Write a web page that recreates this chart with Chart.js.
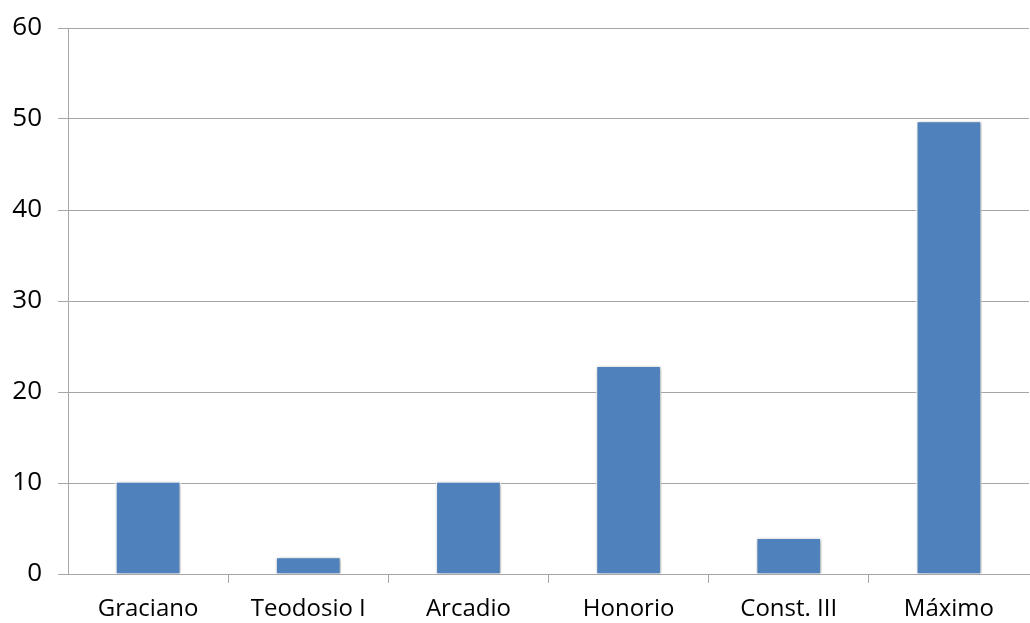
<!DOCTYPE html>
<html>
<head>
<meta charset="utf-8">
<script src="https://cdn.jsdelivr.net/npm/chart.js@4/dist/chart.umd.min.js"></script>
<style>
  html, body { margin: 0; padding: 0; background: #fff; }
  #wrap { width: 1030px; height: 623px; }
</style>
</head>
<body>
<div id="wrap"><canvas id="grafik" width="1030" height="623"></canvas></div>
<script>
const kategori = ['Graciano', 'Teodosio I', 'Arcadio', 'Honorio', 'Const. III', 'Máximo'];
const nilai = [10.2, 1.9, 10.2, 22.9, 4.0, 49.8];
const tickY = [0, 10, 20, 30, 40, 50, 60];

const bayangan = {
    id: 'bayangan',
    beforeDatasetsDraw: function (chart) {
        const ctx = chart.ctx;
        ctx.save();
        ctx.shadowColor = 'rgba(0, 0, 0, 0.35)';
        ctx.shadowBlur = 4;
        ctx.shadowOffsetX = 1;
        ctx.shadowOffsetY = 1;
    },
    afterDatasetsDraw: function (chart) {
        chart.ctx.restore();
    }
};

new Chart('grafik', {
    type: 'bar',
    data: {
        labels: kategori,
        datasets: [{
            data: nilai,
            backgroundColor: '#4F81BD',
            borderColor: '#ffffff',
            borderWidth: 1.5,
            categoryPercentage: 1,
            barPercentage: 0.41
        }]
    },
    options: {
        responsive: false,
        animation: false,
        events: [],
        layout: { padding: { top: 28, right: 1, left: 0, bottom: 0 } },
        plugins: {
            legend: { display: false },
            tooltip: { enabled: false }
        },
        scales: {
            x: {
                offset: true,
                grid: {
                    offset: true,
                    display: true,
                    drawOnChartArea: false,
                    drawTicks: true,
                    tickLength: 9,
                    color: function (context) {
                        if (context.index === undefined || context.index === 0) {
                            return 'rgba(0,0,0,0)';
                        }
                        return '#A6A6A6';
                    }
                },
                border: { color: '#A6A6A6', width: 1 },
                ticks: {
                    color: '#000',
                    padding: 12,
                    font: { family: 'Open Sans', size: 24 }
                },
                afterFit: function (scale) { scale.height = 49; }
            },
            y: {
                min: 0,
                max: 60,
                afterBuildTicks: function (scale) {
                    scale.ticks = tickY.map(function (v) { return { value: v }; });
                },
                grid: {
                    color: '#A6A6A6',
                    tickLength: 10
                },
                border: { color: '#A6A6A6', width: 1 },
                ticks: {
                    color: '#000',
                    padding: 16,
                    font: { family: 'Open Sans', size: 26 }
                },
                afterFit: function (scale) {
                    scale.width = 68;
                    scale.paddingTop = 0;
                    scale.paddingBottom = 0;
                }
            }
        }
    },
    plugins: [bayangan]
});
</script>
</body>
</html>
